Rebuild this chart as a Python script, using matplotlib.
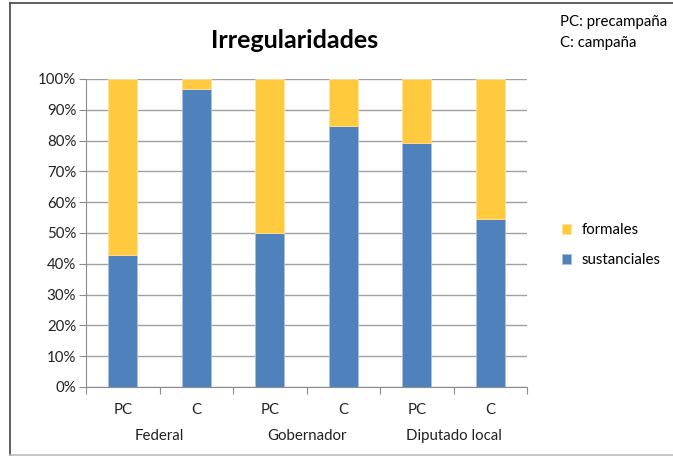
import matplotlib
matplotlib.use("Agg")
import matplotlib.pyplot as plt
from matplotlib.lines import Line2D
import numpy as np

plt.rcParams['font.family'] = ['Lato', 'DejaVu Sans']

groups = ["Federal", "Gobernador", "Diputado local"]
subcats = ["PC", "C", "PC", "C", "PC", "C"]
sustanciales = [42.9, 96.7, 49.9, 84.9, 79.1, 54.5]
formales = [100 - v for v in sustanciales]
ytick_vals = list(range(0, 101, 10))
ytick_labels = [f"{v}%" for v in ytick_vals]

blue = "#4F81BD"
yellow = "#FFCA3D"
fs = 10.8

W, H = 673, 457
fig = plt.figure(figsize=(W/100, H/100), dpi=100)
ax = fig.add_axes([86/W, 1-387/H, (527-86)/W, (387-79)/H])

x = np.arange(len(subcats))
ax.bar(x, sustanciales, width=0.4, color=blue, edgecolor="#A9C0DE", linewidth=0.6,
       label="sustanciales", zorder=3)
ax.bar(x, formales, bottom=sustanciales, width=0.4, color=yellow, edgecolor="#FFE39A",
       linewidth=0.6, label="formales", zorder=3)

ax.set_xlim(-0.5, len(subcats)-0.5)
ax.set_ylim(0, 100)
ax.set_yticks(ytick_vals)
ax.set_yticklabels(ytick_labels, fontsize=fs, color="#222222")
ax.yaxis.grid(True, color="#A0A0A0", linewidth=1.0, zorder=0)
ax.set_axisbelow(True)
for s in ["top", "right"]:
    ax.spines[s].set_visible(False)
for s in ["left", "bottom"]:
    ax.spines[s].set_color("#8C8C8C")
ax.tick_params(axis="y", length=5, color="#8C8C8C", pad=2)

ax.set_xticks(np.arange(-0.5, len(subcats), 1))
ax.set_xticklabels([])
ax.tick_params(axis="x", length=5, color="#8C8C8C")
for i, lab in enumerate(subcats):
    ax.text(i, -7.6, lab, ha="center", va="center", fontsize=fs, color="#222222",
            clip_on=False)
for g, name in enumerate(groups):
    ax.text(2*g + 0.5, -16.0, name, ha="center", va="center", fontsize=fs,
            color="#222222", clip_on=False)

fig.text(295/W, 1-40/H, "Irregularidades", ha="center", va="center",
         fontsize=18, fontweight="bold", color="black")
fig.text(560/W, 1-22/H, "PC: precampaña", ha="left", va="center", fontsize=fs, color="black")
fig.text(560/W, 1-43/H, "C: campaña", ha="left", va="center", fontsize=fs, color="black")

handles, labels = ax.get_legend_handles_labels()
leg = fig.legend(handles[::-1], labels[::-1], loc="center left",
                 bbox_to_anchor=(548/W, 1-245/H), frameon=False, fontsize=fs,
                 handlelength=0.65, handleheight=0.65, handletextpad=0.7, labelspacing=1.05)

# chart border
fig.add_artist(Line2D([10/W, 10/W], [1-3/H, 1-455/H], color="#444444", linewidth=1.2,
                      transform=fig.transFigure))
fig.add_artist(Line2D([10/W, 1], [1-3/H, 1-3/H], color="#444444", linewidth=1.2,
                      transform=fig.transFigure))
fig.add_artist(Line2D([10/W, 1], [1-455/H, 1-455/H], color="#BBBBBB", linewidth=1.2,
                      transform=fig.transFigure))

fig.savefig("out.png", dpi=100)
